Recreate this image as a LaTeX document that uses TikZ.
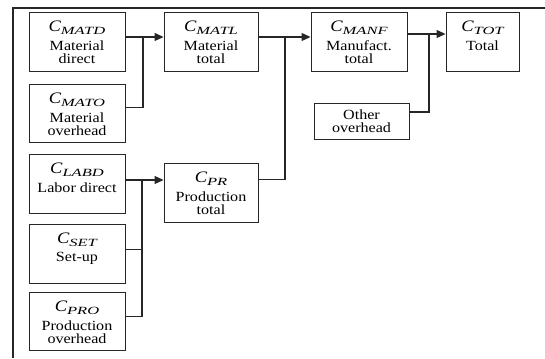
\documentclass[tikz,border=0pt]{standalone}
\usepackage{fontspec}
\setmainfont{Liberation Serif}[FakeStretch=1.15]
\newfontfamily\subfont{Liberation Serif}[FakeStretch=1.5]
\usetikzlibrary{arrows.meta}
\newcommand{\cost}[1]{{\fontsize{16}{16}\selectfont\itshape C\raisebox{-3pt}[0pt][9pt]{\subfont\fontsize{11}{11}\selectfont\itshape #1}}}
\newcommand{\lines}[1]{\begin{tabular}[t]{@{}c@{}}#1\end{tabular}}
\tikzstyle{costbox}=[
draw=black!85,
line width=0.9pt,
anchor=north,
minimum width=96pt,
inner ysep=2pt,
text height=17pt,
text depth=38pt,
font=\fontsize{14}{11}\selectfont
]
\tikzstyle{plainbox}=[draw=black!85,line width=0.9pt,align=center,minimum width=95pt,minimum height=36pt,inner ysep=1pt,font=\fontsize{14}{13}\selectfont]
\tikzstyle{wire} = [draw=black!85,line width=1.1pt]
\tikzstyle{feed} = [wire,-{Triangle[length=9pt,width=8pt]}]

\begin{document}
\begin{tikzpicture}[x=1pt,y=-1pt]
			\useasboundingbox (0,0) rectangle (545,358);
			\draw[wire] (545,8) -- (13,8) -- (13,358);
			
			\node[costbox]				(MATD) at (77,12)	{\lines{\cost{MATD}\\Material\\direct}};
			\node[costbox,text depth=37pt]	(MATO) at (77,84)	{\lines{\cost{MATO}\\Material\\overhead}};
			\node[costbox]				(LABD) at (77,154)	{\lines{\cost{LABD}\\Labor direct}};
			\node[costbox]				(SET) at (77,224)	{\lines{\cost{SET}\\Set-up}};
			\node[costbox,text depth=37pt]	(PRO) at (77,292)	{\lines{\cost{PRO}\\Production\\overhead}};
			\node[costbox,minimum width=94pt]	(MATL) at (211,12)	{\lines{\cost{MATL}\\Material\\total}};
			\node[costbox,minimum width=94pt]	(PR) at (211,163)	{\lines{\cost{PR}\\Production\\total}};
			\node[costbox]				(MANF) at (359,12)	{\lines{\cost{MANF}\\Manufact.\\total}};
			\node[costbox,minimum width=73pt]	(TOT) at (482.5,12)	{\lines{\cost{TOT}\\Total}};
			\node[plainbox]				(OTH) at (361.5,121)	{Other\\overhead};
			
			\coordinate (J1) at (143,37);
			\coordinate (J2) at (142,180);
			\coordinate (J3) at (285,37);
			\coordinate (J4) at (429,34);
			
			\draw[wire] (MATD.east |- J1) -- (J1);
			\draw[wire] ([yshift=6pt]MATO.east) -| (J1);
			\draw[feed] (J1) -- (MATL.west |- J1);
			
			\draw[wire] (LABD.east |- J2) -- (J2);
			\draw[wire] ([yshift=4.5pt]SET.east) -| (J2);
			\draw[wire] ([yshift=5pt]PRO.east) -| (J2);
			\draw[feed] (J2) -- (PR.west |- J2);
			
			\draw[wire] (MATL.east |- J3) -- (J3);
			\draw[wire] ([yshift=13.5pt]PR.east) -| (J3);
			\draw[feed] (J3) -- (MANF.west |- J3);
			
			\draw[wire] (MANF.east |- J4) -- (J4);
			\draw[wire] ([yshift=9pt]OTH.east) -| (J4);
			\draw[feed] (J4) -- (TOT.west |- J4);
			
\end{tikzpicture}
\end{document}
